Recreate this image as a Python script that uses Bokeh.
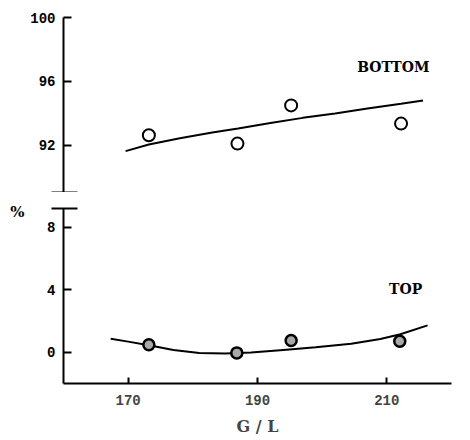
from bokeh.plotting import figure
from bokeh.layouts import column, row
from bokeh.models import FixedTicker, Range1d
from bokeh.core.properties import value
from bokeh.embed import file_html
from bokeh.resources import INLINE

# ---- data ----
x_ticks = [170, 190, 210]
upper_ticks = [92, 96, 100]
lower_ticks = [0, 4, 8]

bottom_x = [173.2, 186.9, 195.2, 212.2]
bottom_y = [92.63, 92.11, 94.50, 93.36]
bottom_fit_x = [169.6, 173.2, 178.0, 183.0, 187.0, 192.0, 197.0, 202.0, 207.0, 212.2, 215.6]
bottom_fit_y = [91.64, 92.05, 92.45, 92.80, 93.06, 93.40, 93.72, 94.00, 94.30, 94.60, 94.81]

top_x = [173.2, 186.8, 195.2, 212.0]
top_y = [0.48, -0.04, 0.75, 0.71]
top_fit_x = [167.3, 170.0, 173.2, 177.0, 181.0, 185.0, 189.0, 194.0, 199.0, 204.5, 209.0, 212.1, 216.3]
top_fit_y = [0.86, 0.68, 0.45, 0.15, -0.05, -0.08, -0.02, 0.15, 0.32, 0.54, 0.85, 1.15, 1.72]

TICK_FONT = "Liberation Mono"
SERIF = "DejaVu Serif"
LEFT_STRIP = 26


def style_common(p):
    p.outline_line_color = None
    p.xgrid.grid_line_color = None
    p.ygrid.grid_line_color = None
    p.background_fill_color = "white"
    p.border_fill_color = "white"


def style_y(ax, ticks, brk):
    ax.ticker = FixedTicker(ticks=ticks, minor_ticks=[brk])
    ax.axis_line_width = 2
    ax.axis_line_color = "black"
    ax.major_tick_line_width = 2
    ax.major_tick_in = 8
    ax.major_tick_out = 0
    ax.minor_tick_in = 14
    ax.minor_tick_out = 12
    ax.minor_tick_line_width = 2
    ax.major_label_text_font = TICK_FONT
    ax.major_label_text_font_style = "bold"
    ax.major_label_text_font_size = "14px"
    ax.major_label_text_color = "black"
    ax.major_label_standoff = -4


# ---- strip on the far left holding the "%" axis title ----
ps = figure(width=LEFT_STRIP, height=440, min_border=0,
            x_range=Range1d(0, 1), y_range=Range1d(0, 1),
            x_axis_location=None, y_axis_location=None,
            output_backend="svg", toolbar_location=None)
style_common(ps)
ps.text(x=[17 / LEFT_STRIP], y=[1 - 211 / 440], text=["%"], text_align="center",
        text_baseline="middle", text_font=value(SERIF), text_font_style="bold",
        text_font_size="15px", text_color="black")

# ---- upper panel (BOTTOM) ----
p1 = figure(frame_width=388, frame_height=175,
            min_border_left=63 - LEFT_STRIP, min_border_right=19,
            min_border_top=17, min_border_bottom=0,
            x_range=Range1d(160, 220), y_range=Range1d(89.05, 100),
            x_axis_location=None,
            output_backend="svg", toolbar_location=None)
style_common(p1)
style_y(p1.yaxis[0], upper_ticks, 89.06)

p1.line(bottom_fit_x, bottom_fit_y, line_color="black", line_width=2)
p1.scatter(bottom_x, bottom_y, marker="circle", size=12,
           fill_color="white", line_color="black", line_width=2)
p1.text(x=[211.0], y=[96.875], text=["BOTTOM"], text_align="center",
        text_baseline="middle", text_font=value(SERIF),
        text_font_style="bold", text_font_size="14px", text_color="black")

# ---- lower panel (TOP) ----
p2 = figure(frame_width=388, frame_height=175,
            min_border_left=63 - LEFT_STRIP, min_border_right=19,
            min_border_top=16, min_border_bottom=57,
            x_range=Range1d(160, 220), y_range=Range1d(-2, 9.2),
            output_backend="svg", toolbar_location=None)
style_common(p2)
style_y(p2.yaxis[0], lower_ticks, 9.19)

xa = p2.xaxis[0]
xa.ticker = FixedTicker(ticks=x_ticks, minor_ticks=[])
xa.axis_line_width = 2
xa.axis_line_color = "black"
xa.major_tick_line_width = 2
xa.major_tick_in = 6
xa.major_tick_out = 0
xa.minor_tick_in = 0
xa.minor_tick_out = 0
xa.major_label_text_font = TICK_FONT
xa.major_label_text_font_style = "bold"
xa.major_label_text_font_size = "14px"
xa.major_label_standoff = 11
xa.axis_label = "G / L"
xa.axis_label_text_font = SERIF
xa.axis_label_text_font_style = "bold"
xa.axis_label_text_font_size = "16px"
xa.axis_label_standoff = 9

p2.line(top_fit_x, top_fit_y, line_color="black", line_width=2)
p2.scatter(top_x, top_y, marker="circle", size=11,
           fill_color="#a9a9a9", line_color="black", line_width=2.5)
p2.text(x=[212.9], y=[4.08], text=["TOP"], text_align="center",
        text_baseline="middle", text_font=value(SERIF),
        text_font_style="bold", text_font_size="14px", text_color="black")

layout = row(ps, column(p1, p2, spacing=0), spacing=0)
open("out.html", "w").write(file_html(layout, INLINE))
